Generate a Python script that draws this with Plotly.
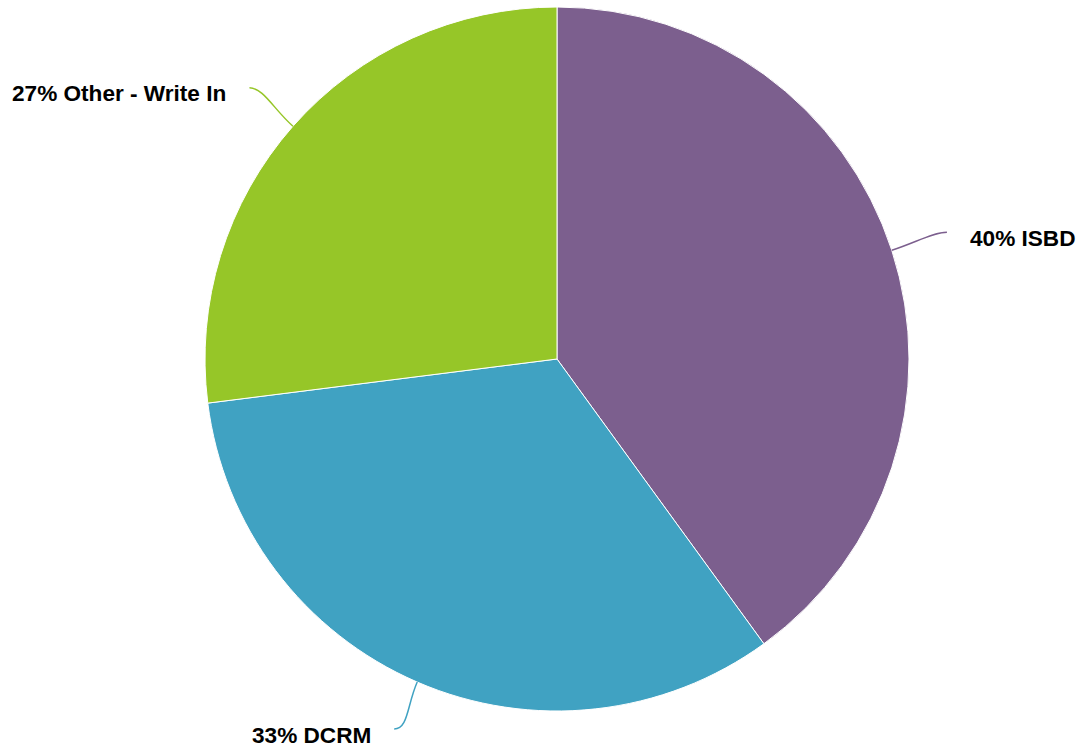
import math
import plotly.graph_objects as go

categories = ["ISBD", "DCRM", "Other - Write In"]
values = [40, 33, 27]
colors = ["#7C5F8E", "#40A2C2", "#96C628"]

W, H = 1079, 748
cx, cy, R = 557, 359, 352

fig = go.Figure(go.Pie(
    labels=categories, values=values, sort=False, direction="clockwise", rotation=0,
    marker=dict(colors=colors, line=dict(color="white", width=1)),
    textinfo="none", hoverinfo="label+percent", showlegend=False,
    domain=dict(x=[(cx - R) / W, (cx + R) / W], y=[1 - (cy + R) / H, 1 - (cy - R) / H]),
))

def px2paper(x, y):
    return x / W, 1 - y / H

total = sum(values)
acc = 0
shapes, annotations = [], []
for cat, v, col in zip(categories, values, colors):
    mid = (acc + v / 2) / total * 2 * math.pi
    acc += v
    sx, cy_ = math.sin(mid), -math.cos(mid)
    p0 = (cx + R * sx, cy + R * cy_)
    p1 = (cx + (R + 26) * sx, cy + (R + 26) * cy_)
    end = (cx + 410 * sx, min(cy + 410 * cy_, H - 19))
    side = 1 if sx >= 0 else -1
    p2 = (end[0] - 14 * side, end[1])
    pts = [px2paper(*p) for p in (p0, p1, p2, end)]
    path = "M {} {} C {} {} {} {} {} {}".format(*[c for p in pts for c in p])
    shapes.append(dict(type="path", path=path, xref="paper", yref="paper",
                       line=dict(color=col, width=1.5)))
    pct = round(v / total * 100)
    lx, ly = px2paper(end[0] + 21 * side, min(end[1] + 6, H - 13))
    annotations.append(dict(x=lx, y=ly, xref="paper", yref="paper",
                            text=f"<b>{pct}% {cat}</b>", showarrow=False,
                            xanchor="left" if side > 0 else "right", yanchor="middle",
                            font=dict(family="Liberation Sans, Arial", size=22.6, color="#000000")))

fig.update_layout(width=W, height=H, margin=dict(l=0, r=0, t=0, b=0),
                  paper_bgcolor="white", plot_bgcolor="white",
                  shapes=shapes, annotations=annotations)
fig.write_html("out.html", config={"displayModeBar": False},
               post_script="document.body.style.margin='0';document.body.style.overflow='hidden';")
